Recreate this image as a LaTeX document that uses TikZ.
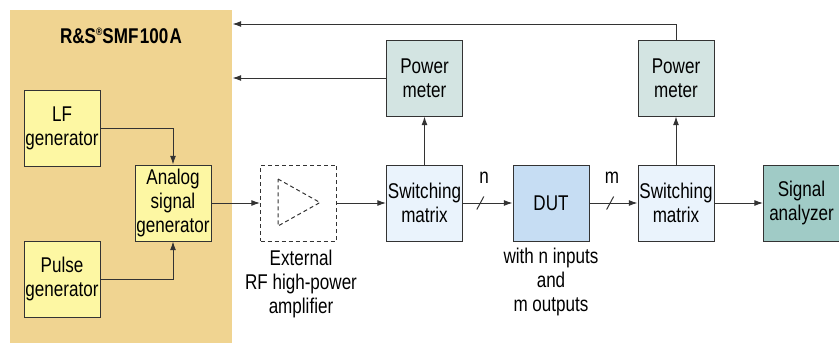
\documentclass[tikz,border=0pt]{standalone}
\usepackage{fontspec}
\setmainfont[FakeStretch=0.8]{Liberation Sans}
\usetikzlibrary{arrows.meta}
\definecolor{panelfill}{HTML}{F0D491}
\definecolor{genfill}{HTML}{FDF7A3}
\definecolor{meterfill}{HTML}{D3E4E2}
\definecolor{switchfill}{HTML}{EAF3FC}
\definecolor{dutfill}{HTML}{C6DDF3}
\definecolor{analyzerfill}{HTML}{A0CBC6}
\definecolor{linegray}{HTML}{333333}

\tikzset{every picture/.style={line width=0.75pt}}
\tikzset{
  blk/.style={draw=linegray, minimum width=57pt, minimum height=57pt, inner sep=0pt, align=center, font=\fontsize{16}{18}\selectfont},
  lbl/.style={inner sep=0.75pt, align=center, font=\fontsize{16}{18}\selectfont},
  conn/.style={draw=linegray, -{Latex[length=6.5pt,width=4.5pt]}}
}

\begin{document}
\begin{tikzpicture}[x=0.75pt,y=0.75pt,yscale=-1,xscale=1]
				\useasboundingbox (0,0) rectangle (839,343);
				
				%Shape: Rectangle [id:panel]
				\node (panel) [fill=panelfill, minimum width=166.5pt, minimum height=249.75pt, inner sep=0pt] at (121,176.5) {};
				% Text Node
				\node (title) [lbl, font=\fontsize{16}{18}\selectfont\bfseries] at (121,36) {R\&S\raisebox{0.7ex}{\fontsize{8}{8}\selectfont ®}SMF\kern1pt100\kern1pt A};
				
				%Blocks
				\node (lf) [blk, fill=genfill] at (62,128) {LF\\generator};
				\node (analog) [blk, fill=genfill] at (173,203) {Analog\\signal\\generator};
				\node (pulse) [blk, fill=genfill] at (62,279) {Pulse\\generator};
				\node (amp) [blk, dash pattern={on 3pt off 2.25pt}] at (298.5,203) {};
				\node (sma) [blk, fill=switchfill] at (424.5,203) {Switching\\matrix};
				\node (pma) [blk, fill=meterfill] at (424.5,78) {Power\\meter};
				\node (dut) [blk, fill=dutfill] at (551,203) {DUT};
				\node (smb) [blk, fill=switchfill] at (676,203) {Switching\\matrix};
				\node (pmb) [blk, fill=meterfill] at (676,78) {Power\\meter};
				\node (analyzer) [blk, fill=analyzerfill] at (801.5,203) {Signal\\analyzer};
				
				%Shape: Triangle [id:amptri]
				\draw [draw=linegray, dash pattern={on 3pt off 2.25pt}] (278,179) -- (320,202.5) -- (278,226) -- cycle ;
				
				% Text Node
				\node (amplbl) [lbl] at (301,284) {External\\RF high-power\\amplifier};
				% Text Node
				\node (dutlbl) [lbl] at (551,282) {with n inputs\\and\\m outputs};
				
				%Connectors
				\draw [conn] (lf.east) -| (analog.north) ;
				\draw [conn] (pulse.east) -| (analog.south) ;
				\draw [conn] (analog) -- (amp) ;
				\draw [conn] (amp) -- (sma) ;
				\draw [conn] (sma) -- node [pos=0.35] (slasha) {} (dut) ;
				\draw [conn] (dut) -- node [pos=0.43] (slashb) {} (smb) ;
				\draw [conn] (smb) -- (analyzer) ;
				\draw [conn] (sma) -- (pma) ;
				\draw [conn] (smb) -- (pmb) ;
				\draw [conn] (pma.west) -- (pma.west -| panel.east) ;
				\coordinate (bend) at (676,24) ;
				\draw [conn] (pmb.north) -- (bend) -- (bend -| panel.east) ;
				
				%Slashes
				\draw [draw=linegray] ([shift={(-3.5,6.5)}]slasha.center) -- ([shift={(3.5,-6.5)}]slasha.center) ;
				\draw [draw=linegray] ([shift={(-3.5,6.5)}]slashb.center) -- ([shift={(3.5,-6.5)}]slashb.center) ;
				% Text Node
				\node (nlbl) [lbl] at (484,178) {n};
				% Text Node
				\node (mlbl) [lbl] at (612,178) {m};
			\end{tikzpicture}
\end{document}
